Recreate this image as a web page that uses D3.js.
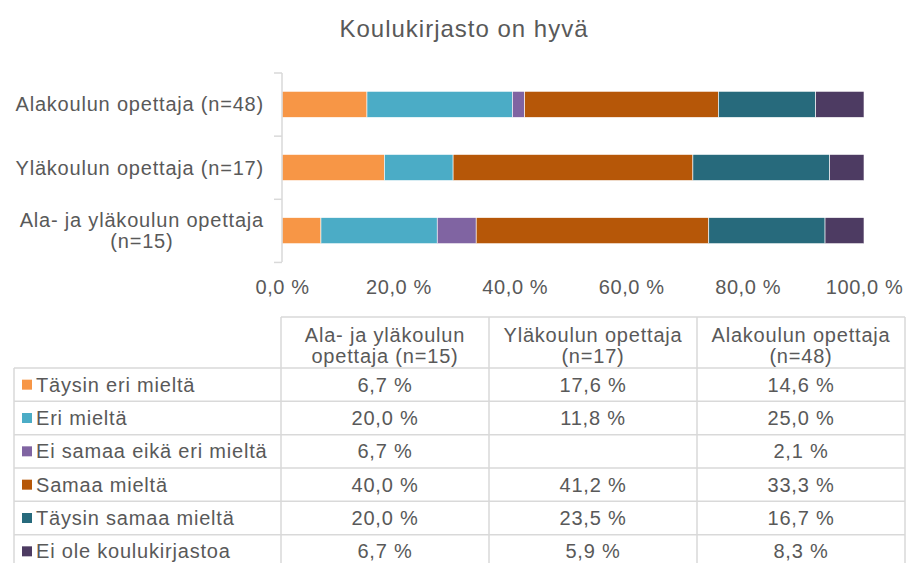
<!DOCTYPE html>
<html>
<head>
<meta charset="utf-8">
<script src="https://cdnjs.cloudflare.com/ajax/libs/d3/7.8.5/d3.min.js"></script>
<style>
body{margin:0;background:#fff;}
text{font-family:"Liberation Sans",Arial,sans-serif;fill:#595959;letter-spacing:0.8px;}
</style>
</head>
<body>
<div id="chart"></div>
<script>
// bar order top -> bottom
const groups = ["Alakoulun opettaja (n=48)", "Yläkoulun opettaja (n=17)", "Ala- ja yläkoulun opettaja (n=15)"];
const groupLines = [["Alakoulun opettaja (n=48)"], ["Yläkoulun opettaja (n=17)"], ["Ala- ja yläkoulun opettaja", "(n=15)"]];

const answers = ["Täysin eri mieltä", "Eri mieltä", "Ei samaa eikä eri mieltä", "Samaa mieltä", "Täysin samaa mieltä", "Ei ole koulukirjastoa"];
const colors = ["#F79646", "#4BACC6", "#8064A2", "#B65708", "#276A7C", "#4D3B62"];

const ala = [14.6, 25.0, 2.1, 33.3, 16.7, 8.3];
const yla = [17.6, 11.8, null, 41.2, 23.5, 5.9];
const alaJaYla = [6.7, 20.0, 6.7, 40.0, 20.0, 6.7];

const tickValues = [0, 0.2, 0.4, 0.6, 0.8, 1];

// table column order (reverse of the bars)
const tableHeads = [["Ala- ja yläkoulun", "opettaja (n=15)"], ["Yläkoulun opettaja", "(n=17)"], ["Alakoulun opettaja", "(n=48)"]];
const tableValues = [alaJaYla, yla, ala];

var width = 906, height = 563;
var fs = "20px";

const loc = d3.formatLocale({decimal: ",", thousands: " ", grouping: [3], currency: ["", " €"], percent: " %"});
const pct = loc.format(".1%");

const svg = d3.select("#chart").append("svg")
  .attr("width", width)
  .attr("height", height);

svg.append("text")
  .attr("x", 464).attr("y", 37)
  .attr("text-anchor", "middle")
  .style("font-size", "24px")
  .style("letter-spacing", "1px")
  .text("Koulukirjasto on hyvä");

const x = d3.scaleLinear().domain([0, 1]).range([282, 864]);
const y = d3.scaleBand().domain(groups).range([73, 262]).paddingInner(0.587).paddingOuter(0.29);

const rows = groups.map((g, i) => {
  const vals = [ala, yla, alaJaYla][i];
  const o = {group: g};
  answers.forEach((a, j) => o[a] = vals[j] || 0);
  return o;
});

const series = d3.stack().keys(answers).offset(d3.stackOffsetExpand)(rows);

const color = d3.scaleOrdinal().domain(answers).range(colors);

svg.append("g").selectAll("g").data(series).enter()
  .append("g")
  .attr("fill", d => color(d.key))
  .selectAll("rect").data(d => d).enter()
  .append("rect")
  .attr("x", d => x(d[0]))
  .attr("y", d => y(d.data.group))
  .attr("width", d => x(d[1]) - x(d[0]))
  .attr("height", y.bandwidth())
  .attr("stroke", "#fff")
  .attr("stroke-width", 0.6);

// category axis: line + ticks on band edges
const yAxis = svg.append("g").attr("stroke", "#D9D9D9").attr("stroke-width", 1.5);
yAxis.append("line").attr("x1", 282).attr("x2", 282).attr("y1", 73).attr("y2", 262);
d3.range(groups.length + 1).forEach(i => {
  const yy = 73 + i * y.step();
  yAxis.append("line").attr("x1", 274).attr("x2", 282).attr("y1", yy).attr("y2", yy);
});

const lab = svg.append("g").selectAll("text").data(groups).enter()
  .append("text")
  .style("font-size", fs)
  .attr("text-anchor", "middle");
lab.each(function(g, i) {
  const t = d3.select(this);
  const lines = groupLines[i];
  const cy = y(g) + y.bandwidth() / 2;
  lines.forEach((l, k) => {
    t.append("tspan").attr("y", cy + 7 + (k - (lines.length - 1) / 2) * 21).text(l);
  });
  let w = 0;
  t.selectAll("tspan").each(function() { w = Math.max(w, this.getComputedTextLength()); });
  t.selectAll("tspan").attr("x", 264 - w / 2);
});

const xAxis = svg.append("g")
  .attr("transform", "translate(0,272)")
  .call(d3.axisBottom(x).tickValues(tickValues).tickFormat(pct).tickSize(0).tickPadding(8));
xAxis.select(".domain").remove();
xAxis.selectAll("text").style("font-size", fs).style("letter-spacing", "0.6px").attr("fill", "#595959").style("font-family", null);

// data table
const tc = d3.scaleBand().domain(d3.range(tableHeads.length)).range([281, 905]);
const tr = d3.scaleBand().domain(answers).range([368, 568]);
const left = 14, headTop = 317;

const grid = svg.append("g").attr("stroke", "#D9D9D9").attr("stroke-width", 1.5);
grid.append("line").attr("x1", tc.range()[0]).attr("x2", tc.range()[1]).attr("y1", headTop).attr("y2", headTop);
answers.forEach(a => {
  grid.append("line").attr("x1", left).attr("x2", tc.range()[1]).attr("y1", tr(a)).attr("y2", tr(a));
});
grid.append("line").attr("x1", left).attr("x2", tc.range()[1]).attr("y1", 568).attr("y2", 568);
grid.append("line").attr("x1", left).attr("x2", left).attr("y1", 368).attr("y2", 568);
d3.range(tableHeads.length + 1).forEach(i => {
  const xx = 281 + i * tc.step();
  grid.append("line").attr("x1", xx).attr("x2", xx).attr("y1", headTop).attr("y2", 568);
});

tableHeads.forEach((h, i) => {
  const t = svg.append("text")
    .attr("text-anchor", "middle")
    .style("font-size", fs);
  h.forEach((l, k) => {
    t.append("tspan").attr("x", tc(i) + tc.bandwidth() / 2).attr("y", 342 + k * 21).text(l);
  });
});

const legendRows = svg.append("g").selectAll("g").data(answers).enter()
  .append("g")
  .attr("transform", d => "translate(0," + tr(d) + ")");
legendRows.append("rect")
  .attr("x", 22).attr("y", tr.bandwidth() / 2 - 5)
  .attr("width", 10).attr("height", 10)
  .attr("fill", d => color(d));
legendRows.append("text")
  .attr("x", 36).attr("y", tr.bandwidth() / 2 + 7)
  .style("font-size", fs)
  .text(d => d);

tableValues.forEach((vals, i) => {
  answers.forEach((a, j) => {
    if (vals[j] == null) return;
    svg.append("text")
      .attr("x", tc(i) + tc.bandwidth() / 2)
      .attr("y", tr(a) + tr.bandwidth() / 2 + 7)
      .attr("text-anchor", "middle")
      .style("font-size", fs)
      .text(pct(vals[j] / 100));
  });
});
</script>
</body>
</html>
